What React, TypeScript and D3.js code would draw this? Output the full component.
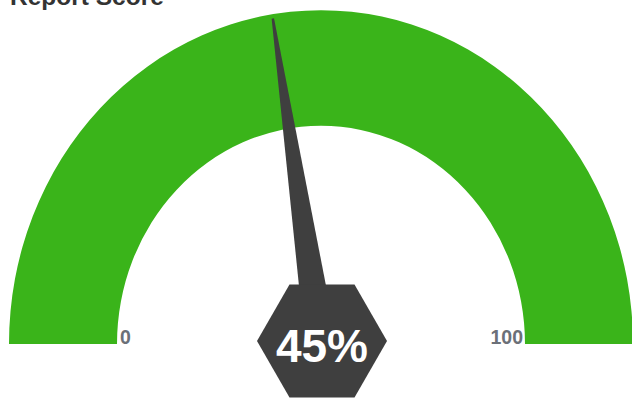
import React from "react";
import * as d3 from "d3";

const title = "Report Score";
const gaugeMin = [0];
const gaugeMax = [100];
const scoreValue = [45];
const tickLabels = ["0", "100"];

const W = 632;
const H = 400;
const cx = 321;
const cy = 344;
const outerR = 312;
const innerR = 204;
const yStretch = 1.07;

export default function App() {
  const angle = d3
    .scaleLinear()
    .domain([gaugeMin[0], gaugeMax[0]])
    .range([-Math.PI / 2, Math.PI / 2]);

  const band = d3
    .arc<any>()
    .innerRadius(innerR)
    .outerRadius(outerR)
    .startAngle(angle(gaugeMin[0]))
    .endAngle(angle(gaugeMax[0]))({});

  const a = angle(scoreValue[0]);
  const L = 308;
  const baseW = 16;
  const tipW = 1.2;
  const ux = Math.sin(a);
  const uy = -Math.cos(a);
  const px = Math.cos(a);
  const py = Math.sin(a);
  const needle = [
    [-px * baseW, -py * baseW],
    [ux * L - px * tipW, uy * L - py * tipW],
    [ux * L + px * tipW, uy * L + py * tipW],
    [px * baseW, py * baseW],
  ];
  const needlePath = d3.line()(needle as [number, number][]) + "Z";

  const hs = 65;
  const hcx = 322;
  const hcy = 341;
  const hex = d3.range(6).map((i) => {
    const t = (Math.PI / 3) * i;
    return [hcx + hs * Math.cos(t), hcy + hs * Math.sin(t) * 0.87 / 0.866] as [number, number];
  });
  const hexPath = d3.line()(hex) + "Z";

  const innerLeftX = cx - innerR;
  const innerRightX = cx + innerR;

  return (
    <svg
      width={W}
      height={H}
      style={{ position: "absolute", left: 0, top: 0, display: "block", background: "#fff" }}
      fontFamily="'Liberation Sans', Arial, sans-serif"
    >
      <text x={10} y={4.5} fontSize={24.5} fontWeight="bold" fill="#333333">
        {title}
      </text>
      <g transform={`translate(${cx},${cy}) scale(1,${yStretch})`}>
        <path d={band as string} fill="#3ab41a" />
        <path d={needlePath} fill="#3f3f3f" />
      </g>
      <text x={innerLeftX + 3} y={344} fontSize={19.5} fontWeight="bold" fill="#6b7078" textAnchor="start">
        {tickLabels[0]}
      </text>
      <text x={innerRightX - 2} y={344} fontSize={19.5} fontWeight="bold" fill="#6b7078" textAnchor="end">
        {tickLabels[1]}
      </text>
      <path d={hexPath} fill="#3f3f3f" />
      <text x={hcx} y={362} fontSize={46} fontWeight="bold" fill="#ffffff" textAnchor="middle">
        {`${scoreValue[0]}%`}
      </text>
    </svg>
  );
}
